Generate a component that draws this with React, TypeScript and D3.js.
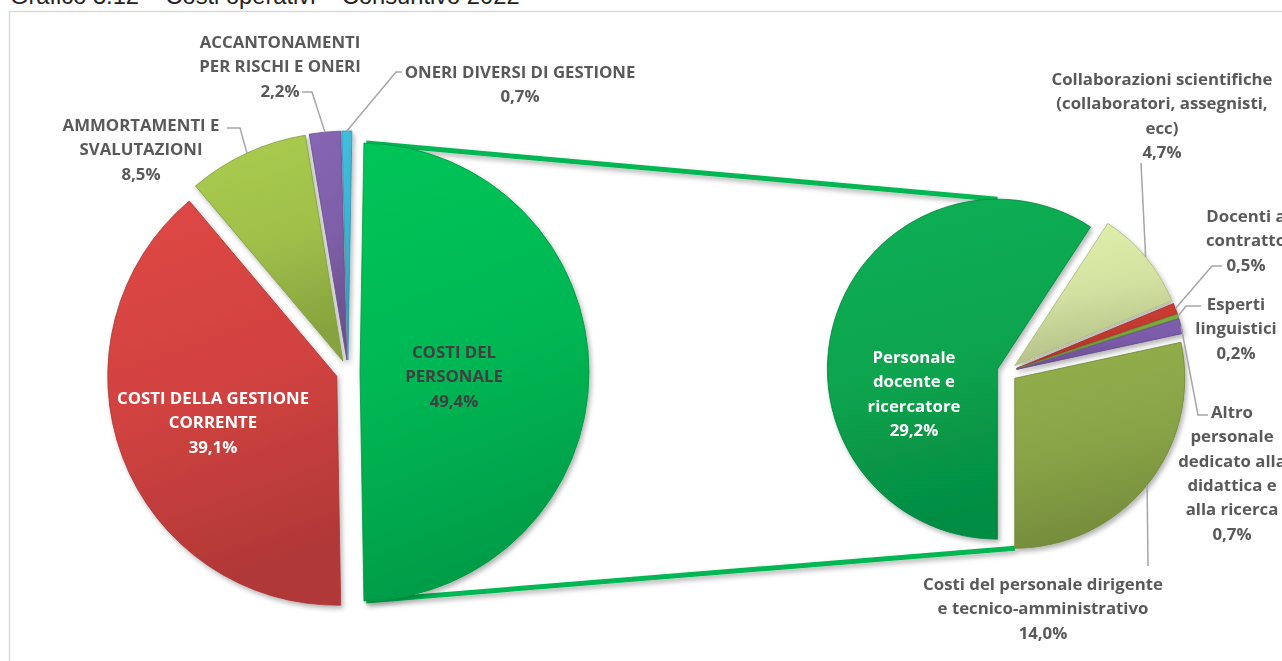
import { useRef, useEffect } from "react";
import * as d3 from "d3";

const titleText = "Grafico 3.12 – Costi operativi – Consuntivo 2022";

// main pie (the first slice is the one broken down in the second pie)
const mainLabels = [
  "COSTI DEL\nPERSONALE",
  "COSTI DELLA GESTIONE\nCORRENTE",
  "AMMORTAMENTI E\nSVALUTAZIONI",
  "ACCANTONAMENTI\nPER RISCHI E ONERI",
  "ONERI DIVERSI DI GESTIONE",
];
const mainValues = [49.4, 39.1, 8.5, 2.2, 0.7];
const mainColors = ["#00b753", "#d04240", "#9fbf4a", "#7e5fa8", "#3fb1d0"];

// second pie
const subLabels = [
  "Personale\ndocente e\nricercatore",
  "Collaborazioni scientifiche\n(collaboratori, assegnisti,\necc)",
  "Docenti a\ncontratto",
  "Esperti\nlinguistici",
  "Altro\npersonale\ndedicato alla\ndidattica e\nalla ricerca",
  "Costi del personale dirigente\ne tecnico-amministrativo",
];
const subValues = [29.2, 4.7, 0.5, 0.2, 0.7, 14.0];
const subColors = ["#07a44e", "#d2e1a0", "#c0392f", "#78a63a", "#7a5aa8", "#89a447"];

// where the labels sit (centre of first line) and their leader elbows
const mainLabelPos = [
  { x: 454, y: 352, fill: "#404040", leader: null },
  { x: 213, y: 398, fill: "#ffffff", leader: null },
  { x: 141, y: 125, fill: "#595959", leader: [[227, 128], [240, 128]] },
  { x: 280, y: 42, fill: "#595959", leader: [[302, 92], [312, 92]] },
  { x: 520, y: 72, fill: "#595959", leader: [[402, 72], [396, 72]] },
];
const subLabelPos = [
  { x: 914, y: 357, fill: "#ffffff", leader: null },
  { x: 1162, y: 79, fill: "#595959", leader: [[1141, 163]] },
  { x: 1246, y: 216, fill: "#595959", leader: [[1222, 266], [1212, 266]] },
  { x: 1236, y: 304, fill: "#595959", leader: [[1201, 306], [1186, 306]] },
  { x: 1232, y: 412, fill: "#595959", leader: [[1208, 415], [1198, 415]] },
  { x: 1043, y: 584, fill: "#595959", leader: [[1148, 566]] },
];

const pct = (v) => v.toFixed(1).replace(".", ",") + "%";

export default function App() {
  const ref = useRef(null);

  useEffect(() => {
    if (!ref.current) return;
    const W = 1282,
      H = 661;
    const svg = d3.select(ref.current);
    svg.selectAll("*").remove();
    svg.attr("width", W).attr("height", H).attr("viewBox", `0 0 ${W} ${H}`);

    const defs = svg.append("defs");
    const f = defs
      .append("filter")
      .attr("id", "shadow")
      .attr("x", "-20%")
      .attr("y", "-20%")
      .attr("width", "140%")
      .attr("height", "140%");
    f.append("feDropShadow")
      .attr("dx", 2)
      .attr("dy", 3)
      .attr("stdDeviation", 2.5)
      .attr("flood-color", "#000")
      .attr("flood-opacity", 0.3);

    const grad = (id, c) => {
      const g = defs
        .append("linearGradient")
        .attr("id", id)
        .attr("x1", 0)
        .attr("y1", 0)
        .attr("x2", 0.2)
        .attr("y2", 1);
      g.append("stop").attr("offset", 0).attr("stop-color", d3.color(c).brighter(0.2));
      g.append("stop").attr("offset", 0.55).attr("stop-color", c);
      g.append("stop").attr("offset", 1).attr("stop-color", d3.color(c).darker(0.45));
    };
    mainColors.forEach((c, i) => grad("gm" + i, c));
    subColors.forEach((c, i) => grad("gs" + i, c));

    svg.append("rect")
      .attr("width", W)
      .attr("height", H)
      .attr("fill", "#fff");

    // frame + cut title
    svg.append("rect")
      .attr("x", 9.5)
      .attr("y", 11.5)
      .attr("width", W)
      .attr("height", H)
      .attr("fill", "none")
      .attr("stroke", "#d9d9d9")
      .attr("stroke-width", 1.5);
    svg.append("text")
      .attr("x", 10)
      .attr("y", 4)
      .attr("font-family", "Liberation Sans, Arial, sans-serif")
      .attr("font-size", 23.7)
      .attr("fill", "#222")
      .text(titleText);

    const font = "'Open Sans', Lato, sans-serif";

    // main pie
    const M = { cx: 348, cy: 372, r: 229, ex: 12 };
    const mTotal = d3.sum(mainValues);
    const span0 = (mainValues[0] / mTotal) * 2 * Math.PI;
    const a0 = Math.PI / 2 - span0 / 2;
    const mArcs = d3
      .pie()
      .sort(null)
      .startAngle(a0)
      .endAngle(a0 + 2 * Math.PI)(mainValues);

    // second pie
    const S = { cx: 1007, cy: 372, r: 170, ex: 10 };
    const sArcs = d3
      .pie()
      .sort(null)
      .startAngle(Math.PI)
      .endAngle(3 * Math.PI)(subValues);

    const off = (d, e) => {
      const m = (d.startAngle + d.endAngle) / 2;
      return [Math.sin(m) * e, -Math.cos(m) * e];
    };
    const pt = (P, d, a, r) => {
      const [ox, oy] = off(d, P.ex);
      return [P.cx + ox + Math.sin(a) * r, P.cy + oy - Math.cos(a) * r];
    };

    // connector lines between the pies
    const gd = mArcs[0];
    const topA = pt(M, gd, gd.startAngle + 0.01, M.r);
    const botA = pt(M, gd, gd.endAngle - 0.01, M.r);
    const topB = pt(S, sArcs[0], 2 * Math.PI, S.r);
    const botB = pt(S, sArcs[5], Math.PI, S.r);
    const conn = svg.append("g").attr("filter", "url(#shadow)");
    [
      [topA, topB],
      [botA, botB],
    ].forEach(([p, q]) => {
      conn.append("line")
        .attr("x1", p[0])
        .attr("y1", p[1])
        .attr("x2", q[0])
        .attr("y2", q[1])
        .attr("stroke", mainColors[0])
        .attr("stroke-width", 5);
    });

    const drawPie = (P, arcs, colors, gid) => {
      const arc = d3.arc().innerRadius(0).outerRadius(P.r);
      const g = svg
        .append("g")
        .attr("transform", `translate(${P.cx},${P.cy})`)
        .attr("filter", "url(#shadow)");
      g.selectAll("path")
        .data(arcs)
        .join("path")
        .attr("transform", (d) => `translate(${off(d, P.ex)})`)
        .attr("d", arc)
        .attr("fill", (d, i) => `url(#${gid}${i})`)
        .attr("stroke", (d, i) => d3.color(colors[i]).darker(0.6))
        .attr("stroke-width", 0.8);
    };
    drawPie(M, mArcs, mainColors, "gm");
    drawPie(S, sArcs, subColors, "gs");

    const labels = (P, arcs, names, values, pos) => {
      arcs.forEach((d, i) => {
        const lp = pos[i];
        const lines = names[i].split("\n").concat(pct(values[i]));
        const t = svg
          .append("text")
          .attr("text-anchor", "middle")
          .attr("font-family", font)
          .attr("font-weight", 700)
          .attr("font-size", 16.8)
          .attr("fill", lp.fill);
        lines.forEach((s, k) => {
          t.append("tspan")
            .attr("x", lp.x)
            .attr("y", lp.y + 6 + k * 24.3)
            .text(s);
        });
        if (lp.leader) {
          const m = (d.startAngle + d.endAngle) / 2;
          const end = pt(P, d, m, P.r);
          svg.append("path")
            .attr("d", d3.line()(lp.leader.concat([end])))
            .attr("fill", "none")
            .attr("stroke", "#a6a6a6")
            .attr("stroke-width", 1.5);
        }
      });
    };
    labels(M, mArcs, mainLabels, mainValues, mainLabelPos);
    labels(S, sArcs, subLabels, subValues, subLabelPos);
  }, []);

  return (
    <svg
      ref={ref}
      style={{ position: "absolute", left: 0, top: 0, display: "block" }}
    />
  );
}
